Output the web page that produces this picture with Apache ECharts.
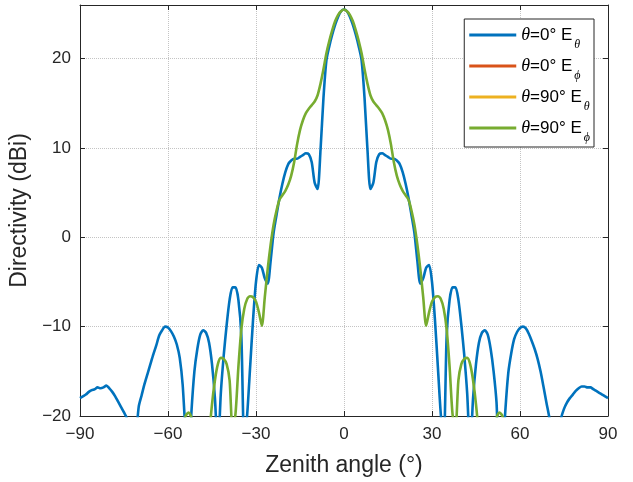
<!DOCTYPE html>
<html>
<head>
<meta charset="utf-8">
<script src="https://cdn.jsdelivr.net/npm/echarts@6/dist/echarts.min.js"></script>
<style>
html,body{margin:0;padding:0;background:#fff;}
#chart{width:633px;height:482px;}
</style>
</head>
<body>
<div id="chart"></div>
<script>
// Sampling grid: zenith angle in degrees, -90 .. 90 step 1
var angles = [];
for (var a = -90; a <= 90; a++) angles.push(a);

// theta=0 deg, E_theta (blue), values at -90..90
var theta0Etheta = [
  -18.0,-17.8,-17.6,-17.3,-17.1,-17.0,-16.8,-16.9,-16.8,-16.6,   // -90..-81
  -16.9,-17.3,-17.8,-18.4,-19.0,-19.6,-20.3,-24.0,-28.0,-23.0,   // -80..-71
  -19.0,-17.7,-16.4,-15.3,-14.2,-13.1,-12.1,-11.0,-10.4,-10.0,   // -70..-61
  -10.1,-10.5,-11.1,-12.0,-13.5,-16.5,-22.0,-26.0,-19.5,-15.0,   // -60..-51
  -12.5,-10.9,-10.4,-10.7,-11.8,-14.2,-18.0,-24.0,-17.5,-13.2,   // -50..-41
  -9.8,-7.0,-5.6,-5.6,-7.0,-11.0,-23.0,-19.8,-14.5,-9.2,         // -40..-31
  -5.0,-3.1,-3.4,-4.6,-5.2,-2.6,0.5,2.5,4.4,6.0,                 // -30..-21
  7.3,8.2,8.6,8.8,8.8,9.0,9.2,9.4,9.3,8.4,                       // -20..-11
  6.1,5.4,9.8,15.6,19.8,21.4,22.7,23.8,24.7,25.3,                // -10..-1
  25.5,                                                          // 0
  25.3,24.7,23.8,22.7,21.4,19.8,15.6,9.8,5.4,6.1,                // 1..10
  8.4,9.3,9.4,9.2,9.0,8.8,8.8,8.6,8.2,7.3,                       // 11..20
  6.0,4.4,2.5,0.5,-2.6,-5.2,-4.6,-3.4,-3.1,-5.0,                 // 21..30
  -9.2,-14.5,-19.8,-23.0,-11.0,-7.0,-5.6,-5.6,-7.0,-9.8,         // 31..40
  -13.2,-17.5,-24.0,-18.0,-14.2,-11.8,-10.7,-10.4,-10.9,-12.5,   // 41..50
  -15.0,-18.5,-26.0,-25.0,-19.4,-15.2,-13.0,-11.4,-10.6,-10.15,  // 51..60
  -10.0,-10.2,-10.8,-11.6,-12.5,-13.6,-15.0,-16.7,-18.5,-20.2,   // 61..70
  -23.0,-28.0,-24.0,-20.3,-19.2,-18.5,-18.0,-17.6,-17.2,-16.9,   // 71..80
  -16.7,-16.7,-16.8,-16.8,-17.0,-17.2,-17.4,-17.6,-17.8,-18.0    // 81..90
];

// theta=90 deg, E_phi (green), values at -90..90
var theta90Ephi = [
  -38,-37,-36,-35,-34,-34,-33,-33,-32,-32,                       // -90..-81
  -31,-31,-30,-30,-30,-29,-29,-29,-28,-28,                       // -80..-71
  -28,-29,-30,-31,-32,-33,-33,-32,-31,-30,                       // -70..-61
  -30,-31,-32,-31,-30,-23.0,-20.0,-19.6,-20.2,-22.0,             // -60..-51
  -30,-35,-35,-30,-22.5,-18.7,-16.0,-14.2,-13.5,-13.6,           // -50..-41
  -14.2,-16.0,-21.5,-19.8,-14.5,-10.3,-8.0,-6.9,-6.6,-6.7,       // -40..-31
  -7.2,-8.4,-9.9,-6.7,-3.5,-0.8,1.4,3.0,4.2,4.7,                 // -30..-21
  5.2,5.9,6.9,8.4,10.4,12.0,13.1,13.9,14.4,14.8,                 // -20..-11
  15.2,15.9,17.2,18.8,20.6,22.0,23.2,24.2,24.9,25.3,             // -10..-1
  25.5,                                                          // 0
  25.3,24.9,24.2,23.2,22.0,20.6,18.8,17.2,15.9,15.2,             // 1..10
  14.8,14.4,13.9,13.1,12.0,10.4,8.4,6.9,5.9,5.2,                 // 11..20
  4.7,4.2,3.0,1.4,-0.8,-3.5,-6.7,-9.9,-8.4,-7.2,                 // 21..30
  -6.7,-6.6,-6.9,-8.0,-10.3,-14.5,-19.8,-21.5,-16.0,-14.2,       // 31..40
  -13.6,-13.5,-14.2,-16.0,-18.7,-22.5,-30,-35,-35,-30,           // 41..50
  -22.0,-20.2,-19.6,-20.0,-23.0,-30,-31,-32,-31,-30,             // 51..60
  -30,-31,-32,-33,-33,-32,-31,-29,-28,-28,                       // 61..70
  -28,-29,-29,-29,-30,-30,-30,-31,-31,-32,                       // 71..80
  -32,-33,-33,-34,-34,-35,-36,-37,-38,-38                        // 81..90
];

// cross-polar components (below the visible range)
var crossAngles = [-90,-75,-60,-45,-30,-15,0,15,30,45,60,75,90];
var theta0Ephi  = [-45,-42,-40,-44,-38,-48,-60,-48,-38,-44,-40,-42,-45];
var theta90Etheta = [-47,-44,-41,-46,-40,-50,-62,-50,-40,-46,-41,-44,-47];

var seriesNames = ['θ=0° E_θ','θ=0° E_ϕ','θ=90° E_θ','θ=90° E_ϕ'];
var seriesColors = ['#0072BD','#D95319','#EDB120','#77AC30'];
var xTicks = [-90,-60,-30,0,30,60,90];
var yTicks = [-20,-10,0,10,20];

function pairs(xs, ys){ var o=[]; for (var i=0;i<xs.length;i++) o.push([xs[i], ys[i]]); return o; }
function tickText(v){ return String(v).replace('-', '\u2212'); }

var seriesData = [
  pairs(angles, theta0Etheta),
  pairs(crossAngles, theta0Ephi),
  pairs(crossAngles, theta90Etheta),
  pairs(angles, theta90Ephi)
];

var chart = echarts.init(document.getElementById('chart'), null, {renderer:'canvas'});
var axisColor = '#262626';
var gridLine = {show:true, lineStyle:{color:'#c4c4c4', type:[1,1], width:1}};

var option = {
  animation:false,
  backgroundColor:'#ffffff',
  grid:{left:80, right:25, top:5, bottom:66, containLabel:false},
  legend:{
    orient:'vertical', right:39, top:19,
    backgroundColor:'#ffffff', borderColor:'#262626', borderWidth:1, borderRadius:0,
    padding:[6,4,3,5], itemGap:5, itemWidth:47, itemHeight:3, icon:'rect',
    data: seriesNames,
    formatter:function(name){
      var parts = name.split('_');
      var head = parts[0];
      return '{g|θ}{n|' + head.slice(1) + '}{s|' + parts[1] + '}';
    },
    textStyle:{
      color:'#000', fontSize:17, fontFamily:'Liberation Sans',
      rich:{
        g:{fontFamily:'Liberation Serif', fontStyle:'italic', fontSize:18, color:'#000', verticalAlign:'middle', lineHeight:20},
        n:{fontFamily:'Liberation Sans', fontSize:17, color:'#000', verticalAlign:'middle', lineHeight:20},
        s:{fontFamily:'Liberation Serif', fontStyle:'italic', fontSize:12, color:'#000', verticalAlign:'top', padding:[14,0,0,2], lineHeight:12}
      }
    }
  },
  xAxis:[{
    type:'value', min:-90, max:90, interval:30, position:'bottom',
    name:'Zenith angle (°)', nameLocation:'middle', nameGap:38,
    nameTextStyle:{color:axisColor, fontSize:23, fontFamily:'Liberation Sans'},
    axisLine:{show:true, onZero:false, lineStyle:{color:axisColor, width:1}},
    axisTick:{show:true, inside:true, length:5, lineStyle:{color:axisColor}},
    axisLabel:{color:axisColor, fontSize:17, fontFamily:'Liberation Sans', margin:10,
      formatter:function(v){ return xTicks.indexOf(v)>=0 ? tickText(v) : ''; }},
    splitLine:gridLine
  },{
    type:'value', min:-90, max:90, interval:30, position:'top',
    axisLine:{show:true, onZero:false, lineStyle:{color:axisColor, width:1}},
    axisTick:{show:true, inside:true, length:5, lineStyle:{color:axisColor}},
    axisLabel:{show:false}, splitLine:{show:false}
  }],
  yAxis:[{
    type:'value', min:-20, max:26, interval:10, position:'left',
    name:'Directivity (dBi)', nameLocation:'middle', nameGap:34,
    nameTextStyle:{color:axisColor, fontSize:23, fontFamily:'Liberation Sans'},
    axisLine:{show:true, onZero:false, lineStyle:{color:axisColor, width:1}},
    axisTick:{show:true, inside:true, length:5, lineStyle:{color:axisColor}},
    axisLabel:{color:axisColor, fontSize:17, fontFamily:'Liberation Sans', margin:9,
      formatter:function(v){ return yTicks.indexOf(v)>=0 ? tickText(v) : ''; }},
    splitLine:gridLine
  },{
    type:'value', min:-20, max:26, interval:10, position:'right',
    axisLine:{show:true, onZero:false, lineStyle:{color:axisColor, width:1}},
    axisTick:{show:true, inside:true, length:5, lineStyle:{color:axisColor}},
    axisLabel:{show:false}, splitLine:{show:false}
  }],
  series: seriesNames.map(function(n, i){
    return {
      name:n, type:'line', data:seriesData[i], xAxisIndex:0, yAxisIndex:0,
      showSymbol:false, symbol:'none', smooth:0.25, clip:true,
      lineStyle:{color:seriesColors[i], width:2.6},
      itemStyle:{color:seriesColors[i]},
      z: 2 + i
    };
  })
};
chart.setOption(option);
</script>
</body>
</html>
